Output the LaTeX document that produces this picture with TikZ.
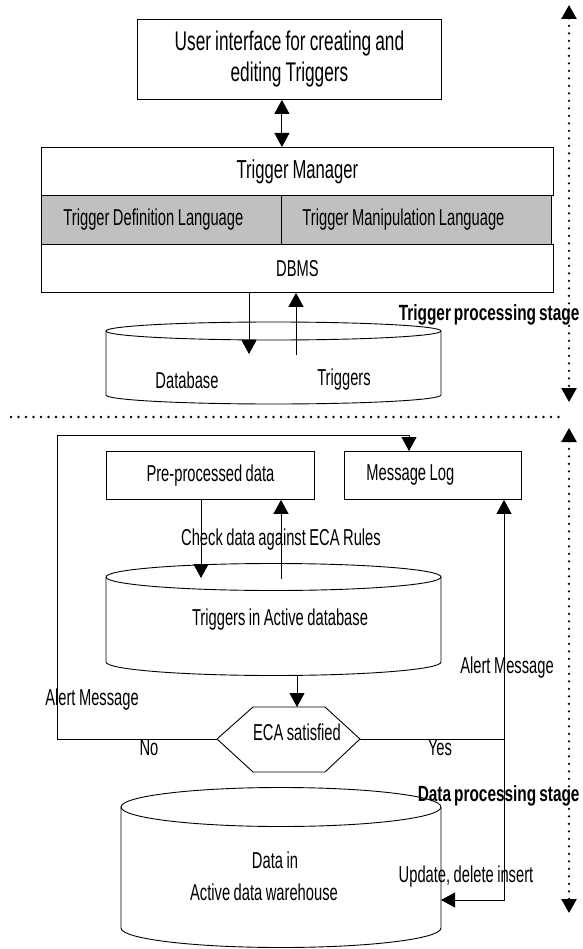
\documentclass[tikz,border=0pt]{standalone}
\usepackage{fontspec}
\setmainfont{Liberation Sans}[FakeStretch=0.64,WordSpace=0.85]
\newfontfamily\stagefont{Liberation Sans}[FakeStretch=0.7,WordSpace=0.7]
\usetikzlibrary{arrows.meta}
\definecolor{panelgray}{HTML}{C0C0C0}
% drum: centre x, x radius, top y, bottom y, y radius
\newcommand\drum[5]{%
  \draw (#1-#2,#3) arc[start angle=180,end angle=-180,x radius=#2,y radius=#5];
  \draw (#1-#2,#3) -- (#1-#2,#4) arc[start angle=180,end angle=0,x radius=#2,y radius=#5] -- (#1+#2,#3);
}
\begin{document}
\begin{tikzpicture}[x=1pt,y=-1pt,line width=0.9pt,font=\fontsize{23}{27}\selectfont,
  box/.style={draw,inner sep=0pt,anchor=north west},
  tip/.style={-{Triangle[length=14pt,width=15pt]}},
  twotip/.style={{Triangle[length=14pt,width=15pt]}-{Triangle[length=14pt,width=15pt]}},
  stage/.style={line width=2.6pt,line cap=round,dash pattern=on 0pt off 7.5pt},
  stagearrow/.style={stage,{Triangle[length=14pt,width=15pt]}-{Triangle[length=14pt,width=15pt]}},
  stagelabel/.style={anchor=west,font=\fontsize{22}{26}\stagefont\bfseries}]
\useasboundingbox (0,0) rectangle (582,949);

% trigger processing stage
\node (ui) [box,minimum width=304,minimum height=80,align=center,
  font=\fontsize{27}{31}\selectfont] at (137,19) {User interface for creating and\\editing Triggers};
\node (tm) [box,minimum width=512,minimum height=48,font=\fontsize{26}{30}\selectfont]
  at (41,147) {Trigger Manager};
\node (tdl) [box,fill=panelgray,text width=196,inner xsep=22,align=flush left,minimum height=49]
  at (41,195) {Trigger Definition Language};
\node (tml) [box,fill=panelgray,text width=228,inner xsep=21,align=flush left,minimum height=49]
  at (281,195) {Trigger Manipulation Language};
\node (dbms) [box,minimum width=512,minimum height=48] at (41,244) {DBMS};
\draw[twotip] (ui.south -| tdl.east) -- (tm.north -| tdl.east);

\drum{273.5}{167.5}{331}{395}{9}
\node (db) at (187,380) {Database};
\node (trg) at (344,380) {Triggers};
\coordinate (dbin) at (249,354);
\coordinate (trgout) at (296,355);
\draw[tip] (dbms.south -| dbin) -- (dbin);
\draw[tip] (trgout) -- (dbms.south -| trgout);

\node (tps) [stagelabel] at (395,315) {Trigger processing stage};
\coordinate (s1top) at (569,5);
\coordinate (s1bot) at (569,402);
\draw[stagearrow] (s1top) -- (s1bot);

\coordinate (sepL) at (11,417);
\coordinate (sepR) at (564,417);
\draw[stage] (sepL) -- (sepR);

% data processing stage
\node (pre) [box,minimum width=208,minimum height=48] at (106,451) {Pre-processed data};
\node (log) [box,text width=133,inner xsep=22,align=flush left,minimum height=48] at (344,451) {Message Log};

\drum{273.5}{167.5}{577}{662}{13.5}
\node (tad) at (280,620) {Triggers in Active database};
\coordinate (chkin) at (201,578);
\coordinate (chkout) at (281,579);
\draw[tip] (pre.south -| chkin) -- (chkin);
\draw[tip] (chkout) -- (pre.south -| chkout);
\node (chk) at (281,540) {Check data against ECA Rules};

\coordinate (ecaW) at (217,739);
\coordinate (ecaE) at (360,739);
\coordinate (ecaN) at (289,707);
\draw (ecaW) -- (253,707) -- (325,707) -- (ecaE) -- (325,772) -- (253,772) -- cycle;
\node (eca) at (297,732) {ECA satisfied};
\coordinate (tadbot) at (297,675);
\draw[tip] (tadbot) -- (tadbot |- ecaN);

\coordinate (nolp) at (57,435);
\coordinate (logdrop) at (409,435);
\draw[tip] (ecaW) -| (nolp) -- (logdrop) -- (logdrop |- log.north);
\node (no) at (149,748) {No};
\node (alertL) at (92,700) {Alert Message};

\coordinate (yesj) at (504,739);
\coordinate (updin) at (441,900);
\draw (ecaE) -- (yesj);
\draw[tip] (yesj) -- (yesj |- log.south);
\draw[tip] (yesj) |- (updin);
\node (yes) at (440,748) {Yes};
\node (alertR) at (507,668) {Alert Message};

\drum{281}{160}{807}{928}{19.5}
\node (dwa) at (275,860) {Data in};
\node (dwb) at (264,892) {Active data warehouse};
\node (upd) at (466,877) {Update, delete insert};

\node (dps) [stagelabel] at (414,796) {Data processing stage};
\coordinate (s2top) at (569,428);
\coordinate (s2bot) at (569,913);
\draw[stagearrow] (s2top) -- (s2bot);
\end{tikzpicture}
\end{document}
